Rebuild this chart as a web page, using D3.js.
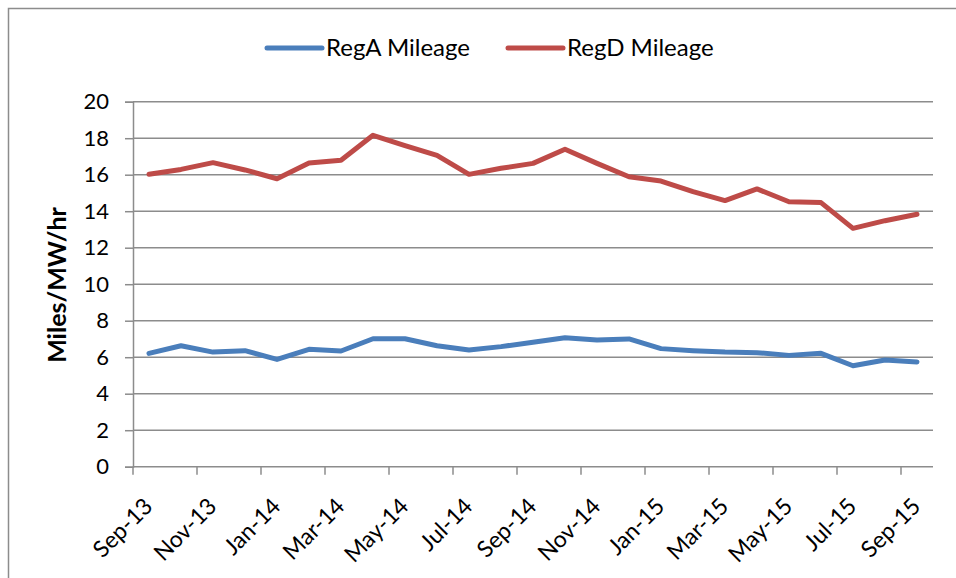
<!DOCTYPE html>
<html>
<head>
<meta charset="utf-8">
<script src="https://cdn.jsdelivr.net/npm/d3@7"></script>
<style>
  body { margin: 0; background: #fff; }
  svg { display: block; font-family: Lato, "Liberation Sans", sans-serif; }
</style>
</head>
<body>
<svg id="chart" width="956" height="578"></svg>
<script>
const months = ["Sep-13","Oct-13","Nov-13","Dec-13","Jan-14","Feb-14","Mar-14","Apr-14","May-14","Jun-14","Jul-14","Aug-14","Sep-14","Oct-14","Nov-14","Dec-14","Jan-15","Feb-15","Mar-15","Apr-15","May-15","Jun-15","Jul-15","Aug-15","Sep-15"];
const tickLabels = ["Sep-13","Nov-13","Jan-14","Mar-14","May-14","Jul-14","Sep-14","Nov-14","Jan-15","Mar-15","May-15","Jul-15","Sep-15"];
const regA = [6.21,6.63,6.28,6.36,5.88,6.43,6.34,7.01,7.01,6.63,6.39,6.58,6.82,7.07,6.94,7.00,6.47,6.36,6.28,6.25,6.10,6.21,5.53,5.85,5.74];
const regD = [16.02,16.29,16.66,16.26,15.78,16.64,16.79,18.16,17.59,17.06,16.02,16.35,16.62,17.39,16.62,15.89,15.65,15.07,14.58,15.22,14.52,14.47,13.06,13.48,13.83];
const yTicks = [0,2,4,6,8,10,12,14,16,18,20];
const seriesNames = ["RegA Mileage","RegD Mileage"];
const seriesColors = ["#4a7ebb","#be4b48"];

const svg = d3.select("#chart");
const pLeft = 133, pRight = 933, pTop = 101.7, pBottom = 466.7;

// outer border
svg.append("rect").attr("x",8.5).attr("y",8.5).attr("width",980).attr("height",600)
  .attr("fill","none").attr("stroke","#8c8c8c").attr("stroke-width",1.5);

const x = d3.scaleBand().domain(months).range([pLeft,pRight]).padding(0);
const y = d3.scaleLinear().domain([0,20]).range([pBottom,pTop]);

// gridlines
svg.append("g").selectAll("line").data(yTicks.filter(d=>d>0)).join("line")
  .attr("x1",pLeft).attr("x2",pRight).attr("y1",d=>y(d)).attr("y2",d=>y(d))
  .attr("stroke","#8c8c8c").attr("stroke-width",1.5);

// y axis
const yAxis = d3.axisLeft(y).tickValues(yTicks).tickSize(8).tickPadding(16).tickFormat(d3.format("d"));
const gy = svg.append("g").attr("transform",`translate(${pLeft},0)`).call(yAxis);
gy.select(".domain").attr("stroke","#8c8c8c").attr("stroke-width",1.5);
gy.selectAll(".tick line").attr("stroke","#8c8c8c").attr("stroke-width",1.5);
gy.selectAll(".tick text").attr("font-size",22).attr("fill","#000").attr("font-family","Lato, sans-serif");

// x axis
const gx = svg.append("g").attr("transform",`translate(0,${pBottom})`);
gx.append("line").attr("x1",pLeft).attr("x2",pRight).attr("y1",0).attr("y2",0)
  .attr("stroke","#8c8c8c").attr("stroke-width",1.5);
const tickMonths = months.filter((m,i)=>i%2===0);
gx.selectAll("line.tk").data(tickMonths).join("line").attr("class","tk")
  .attr("x1",d=>x(d)).attr("x2",d=>x(d)).attr("y1",0).attr("y2",8)
  .attr("stroke","#8c8c8c").attr("stroke-width",1.5);
gx.selectAll("text").data(tickLabels).join("text")
  .attr("transform",d=>`translate(${x(d)+x.bandwidth()/2+5},${41}) rotate(-45)`)
  .attr("text-anchor","end").attr("font-size",23).attr("fill","#000")
  .text(d=>d);

// lines
const line = d3.line().x((d,i)=>x(months[i])+x.bandwidth()/2).y(d=>y(d));
[regA, regD].forEach((s,k)=>{
  svg.append("path").datum(s).attr("d",line).attr("fill","none")
    .attr("stroke",seriesColors[k]).attr("stroke-width",5)
    .attr("stroke-linejoin","round").attr("stroke-linecap","round");
});

// y title
svg.append("text").attr("transform","translate(66,285) rotate(-90)")
  .attr("text-anchor","middle").attr("font-size",25).attr("font-weight","bold")
  .text("Miles/MW/hr");

// legend
const legX = [267, 508];
seriesNames.forEach((n,k)=>{
  const g = svg.append("g").attr("transform",`translate(${legX[k]},48)`);
  g.append("line").attr("x1",0).attr("x2",55).attr("y1",0).attr("y2",0)
    .attr("stroke",seriesColors[k]).attr("stroke-width",5).attr("stroke-linecap","round");
  g.append("text").attr("x",59).attr("y",8).attr("font-size",24).text(n);
});
</script>
</body>
</html>
